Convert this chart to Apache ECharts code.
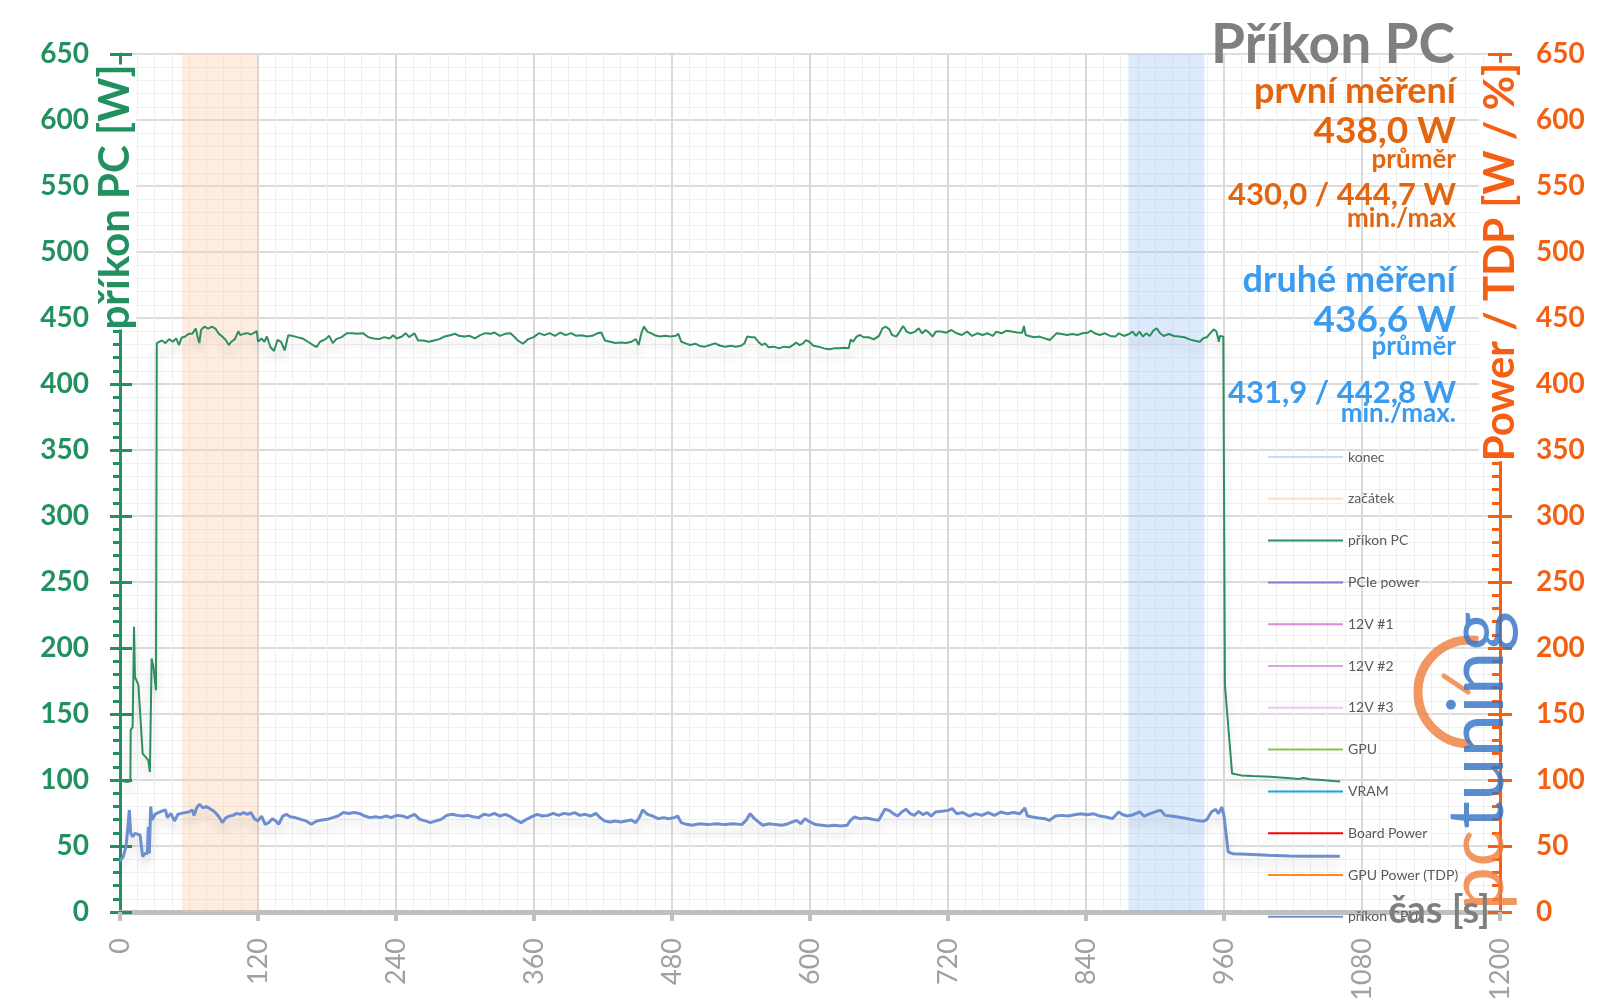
<!DOCTYPE html>
<html>
<head>
<meta charset="utf-8">
<script src="https://cdn.jsdelivr.net/npm/echarts@6.0.0/dist/echarts.min.js"></script>
<style>
html,body{margin:0;padding:0;background:#fff;}
#chart{width:1600px;height:1008px;}
</style>
</head>
<body>
<div id="chart"></div>
<script>
// ---- data ----
const xTicks = [0, 120, 240, 360, 480, 600, 720, 840, 960, 1080, 1200];
const startBand = [54, 120];   // "začátek"
const endBand = [877, 943];    // "konec"

const pcTime = [0,3,6,9,9.3,11,12.2,13,16,19.7,24.6,26,27.5,29,31.3,32,33.4,36.5,39.6,42.7,45.8,48.9,51.3,53.5,56.6,59.7,62.8,65.9,67.4,69,70.5,73.6,76.7,79.8,82.9,86,89,92.2,94.6,96.8,99.9,103,104.5,107.6,110.7,113.8,116.9,119,120,123,125.6,127.7,130.8,133.9,137,140,143.2,146.3,149.4,154,158.7,163.3,168,171,174,178.8,181.9,185,188,192.7,197.3,201.9,206.6,211.2,215.9,220.5,225.2,229.8,234.5,237.5,240.6,245.2,248.3,251.4,256,259.2,263.8,268.4,273,277.7,282.3,287,291.6,294.7,299.3,304,308.6,313.3,317.9,322.5,325.6,330.3,334.9,339.6,342.7,345.8,350.4,355,359.7,364.3,369,373.6,378.2,382.9,387.5,392.2,396.8,401.4,406.1,410.7,415.4,418.5,421.6,426.2,430.8,435.5,440.1,444.7,448.5,451,453.4,455.6,458.7,461.8,464.9,469.5,474.1,478.8,483.4,485.5,488,491.1,495.7,500.4,504,508.5,513,517.5,522,526.5,531,535.5,540,543,545.4,549,552,555,558,561,564,568.5,573,577.5,582,585,588,591,594,596.4,599.4,603,607.5,612,616.5,621,625.5,630,633.6,635.4,637.5,640.5,643.5,646.5,651,655.5,660,663,666,669,671.4,675,678,681,684,687.6,691.5,694.5,697.5,700.5,703.5,706.5,709.5,714,718.5,723,727.5,732,736.5,741,745.5,750,754.5,759,762,766.5,771,775.5,780,784.5,786,787.5,790.5,795,799.5,804,808.5,811.5,814.5,819,823.5,828,832.5,837,841.5,844.5,847.5,852,856.5,861,865.5,868.5,870,873,877.5,880.5,883.5,886.5,889.5,892.5,895.5,898.5,901.5,904.5,907.5,912,916.5,921,925.5,930,934.5,939,942,945,948,951,953.4,955.5,956.4,959.4,960,960.8,967,975,985,1000,1015,1025,1029,1035,1045,1055,1061];
const pcPower = [100,99,98.5,99,138,140,216,178,172,120,115,106,192,186,168,431,431,433,431,434,432,434.5,429.5,435,436,438,438,442,436,431,441,443.5,442,443.5,442,438,436,433,429.5,432,434,440,437,438,438.5,437.5,439,440,432,434.5,432,436,428,425,433.5,432,425.5,437,436.5,435.5,434.5,432,429.5,428,432,434,436.5,431,434,435.5,438.5,438.5,438,438.5,435.5,434.5,434,435.5,434.5,437,434.5,436,438.5,435.5,438.5,433,433,432,433,434,436,437,438,436.5,436,436.5,434.5,437,438.5,438,439,436.5,438,438.5,436,433,430.5,434,435.5,438.5,437,438.5,436.5,439,437,438.5,436.5,437,436,436.5,438.5,439,433,432,431,431.5,431,432,434,429.5,438.5,443.5,439.5,438.5,437,436,436.5,436,436.5,438,432,431,429.5,430.5,428.8,428.3,429.5,430.8,429,428.3,429,428.3,429,430.8,435.9,435.4,435.4,432,429.5,430.8,427.8,428.3,427,428.3,427.8,429.5,431.3,429.5,430.8,433.3,432,429,428.3,427,426.3,427,427,427.5,427,433.8,432,435.9,437.1,435.4,435.4,433.8,436.4,442.2,443.4,441.4,437.1,435.9,439.7,444,439.7,438.4,439.7,442.2,438.4,440.9,438.9,435.9,439.7,439.7,438.9,440.9,438.4,437.1,439.7,436.4,438.4,437.1,438.4,436.4,439.7,438.4,440.4,439.7,439.1,438.9,444,437.1,436.4,435.4,435.9,434.6,433.3,435.9,438.4,437.9,437.1,437.9,437.1,438.4,438.9,440.4,438.4,437.1,438.4,436.4,435.9,438.4,439.7,436.4,437.9,439.7,436.4,439.7,435.9,438.4,436.4,440.4,442.2,438.4,436.4,437.9,436.4,435.9,435.4,433.8,432.8,432,434.6,435.4,438.4,441.4,439.7,432,436.4,435.9,435.9,172,105,103.5,103,102.5,101.5,100.8,101.5,100.5,100,99.2,98.8];

const cpuTime = [0,1.4,2.9,5.2,6.4,8.1,9.3,11,13,17.4,19.7,21.7,23.8,24.6,25.5,26.7,27.8,29.6,30.3,33.4,36.5,39.6,41.1,44.2,47.3,50.4,53.5,56.6,59.7,62.8,64.3,66.8,69,72.1,75.2,78.2,81.3,84.4,87.5,89,92.2,95.3,98.3,101.4,104.5,107.6,110.7,113.8,116.9,120,123.1,126.2,129.3,132.4,135.5,138,141.6,144.7,147.8,152.5,157.1,161.7,166.4,171,175.7,180.3,185,189.6,194.2,198.9,203.5,208.2,212.8,217.4,222.1,226.7,231.3,236,240.6,245.3,249.9,256.1,260.7,265.4,270,274.7,279.3,284,288.6,293.2,297.9,302.5,307.1,311.8,316.4,321.1,325.7,330.3,335,339.6,344.2,348.9,353.5,358.2,362.8,367.4,372.1,376.7,381.4,386,390.6,395.3,399.9,404.6,409.2,413.8,417.5,421.5,426.1,430.8,435.4,440.1,444.7,448.4,451.5,454.6,458.6,463.2,467.9,472.5,477.1,481.8,484.9,488,492.6,497.3,501.9,504,511.4,518.7,526,533.4,540.7,544.4,548,551.7,555.3,559,564.5,570,575.5,581,584.6,588.3,591.9,595.6,600,604.8,610.3,615.7,621.2,626.7,632.2,635.2,638.8,643.2,648.7,654.2,659.6,665.1,668.8,672.5,676.2,679.8,683.5,687.2,690.8,694.5,698.1,701.8,705.5,709.1,714.6,720.1,723.8,727.4,732.9,738.4,743.9,749.4,754.9,760.4,765.9,771.4,776.9,782.4,786.8,789,793.4,798.9,804.3,808,813.5,819,824.5,830,835.5,841,846.5,852,857.4,862.9,868.4,872.1,875.8,881.2,886.7,890.4,895.9,901.4,905.1,908.7,914.2,919.7,925.2,930.7,936.2,941.7,945.3,949,952.7,955.2,958.2,960,963.6,967.3,980,998.4,1016.7,1035,1060.7];
const cpuPower = [38.5,39.4,41.9,49.5,59.6,77.3,59.6,57,59.6,58.3,41.9,44.4,44.4,64.6,44.4,79.8,69.7,72.2,74,75.3,76.5,77.3,71.5,74.7,69,74,74.7,75.3,75.8,77.3,73.2,79,81.6,79,79.8,78.3,76.5,74,70.2,67.7,71.5,72.7,73.2,74.7,74,75.3,74,75.3,70.7,69,72.7,66.4,67.7,70.7,69,66.4,72.7,74,72.2,71.5,70.2,69,66.4,69,69.7,70.2,71.5,72.7,75.3,74.7,75.3,74.7,72.7,71.5,72.2,71.5,72.7,71.5,73.2,72.7,71.5,74,70.2,69,67.7,69,70.2,73.2,74,73.2,72.7,73.2,72.2,71.5,74,73.2,74.7,72.7,74,72.2,69.7,67.7,70.2,72.2,74,72.7,73.2,74.7,73.2,74.7,74,75.3,73.2,74,72.7,74.7,71.5,69,68.2,69,68.2,69,69.7,67.7,71.5,77.3,74,72.7,70.7,71.5,70.7,71.5,72.7,67.7,66.4,65.7,66.4,66.9,66.2,66.9,66.2,66.9,66.2,69.4,74.5,70.7,68.2,65.7,66.9,66.2,65.7,66.9,68.2,69.4,66.9,70.7,68.2,66.2,65.7,65.2,65.7,65.2,65.7,69.4,72,70.7,71.2,70.2,69.4,77.8,77,74.5,72.7,75.8,77.8,74.5,73.2,76.3,73.7,75.3,72.7,75.8,76.3,77,78.3,74.5,75.3,72.7,74.5,73.2,75.3,73.2,75.8,74.5,75.3,74.5,78.8,72.7,72,71.2,70.7,69.4,72.7,73.2,72.7,73.7,74.5,73.7,74.5,72.7,72,70.7,75.8,73.7,72.7,73.7,75.8,72.7,74.5,76.3,77,73.2,72.7,72,71.2,70.2,69.4,68.7,70.2,75.8,77.8,74.5,79.5,72.7,45.5,44.2,43.7,42.9,42.4,42.2,42.2];

const legendNames = ['konec','začátek','příkon PC','PCIe power','12V #1','12V #2','12V #3','GPU','VRAM','Board Power','GPU Power (TDP)','příkon CPU'];
const legendColors = ['#c6dcf4','#fbdcc4','#2e8f5e','#7f7fd0','#d88ad8','#d9a3e0','#e8c8ee','#8cc152','#1ea5e0','#ff0000','#ff8a1c','#6d8fcf'];

// ---- chart ----
const zip = (a, b) => a.map((t, i) => [t, b[i]]);
const GREEN = '#23905f', ORANGE = '#f55f14', TXT_OR = '#e3650f', TXT_BL = '#3b9bee', GRAY = '#7f7f7f';
const FONT = 'Lato';

const series = legendNames.map((name, i) => ({
  name, type: 'line', data: [], color: legendColors[i], showSymbol: false,
  lineStyle: { width: 2, color: legendColors[i] }, silent: true
}));
series[0].markArea = { silent: true, itemStyle: { color: 'rgba(150,190,245,0.33)' },
  data: [[{ xAxis: endBand[0] }, { xAxis: endBand[1] }]] };
series[1].markArea = { silent: true, itemStyle: { color: 'rgba(250,200,160,0.34)' },
  data: [[{ xAxis: startBand[0] }, { xAxis: startBand[1] }]] };
series[2].data = zip(pcTime, pcPower);
series[2].z = 5;
series[2].lineStyle = { width: 2, color: legendColors[2], shadowColor: 'rgba(0,0,0,0.16)', shadowBlur: 10, shadowOffsetY: 8 };
series[11].data = zip(cpuTime, cpuPower);
series[11].z = 4;
series[11].lineStyle = { width: 3, color: legendColors[11], shadowColor: 'rgba(0,0,0,0.14)', shadowBlur: 10, shadowOffsetY: 8 };

const yBase = { type: 'value', min: 0, max: 650, interval: 50 };

const txt = (text, y, size, color) => ({
  type: 'text', x: 1456, y, z: 100,
  style: { text, align: 'right', verticalAlign: 'middle', font: `bold ${size}px ${FONT}`, fill: color }
});

const option = {
  animation: false,
  backgroundColor: '#ffffff',
  grid: { left: 120, right: 100, top: 54, bottom: 96, containLabel: false },
  xAxis: {
    type: 'value', min: xTicks[0], max: xTicks[xTicks.length - 1], interval: 120,
    axisLine: { lineStyle: { color: '#bfbfbf', width: 5 } },
    axisTick: { show: true, length: 9, lineStyle: { color: '#bfbfbf', width: 4 } },
    axisLabel: { rotate: 90, margin: 26, color: '#a0a0a0', fontSize: 27, fontFamily: FONT,
      formatter: v => String(v) },
    splitLine: { show: true, lineStyle: { color: '#d9d9d9', width: 2 } },
    minorTick: { show: false, splitNumber: 8 },
    minorSplitLine: { show: true, lineStyle: { color: '#efefef', width: 1 } }
  },
  yAxis: [
    Object.assign({}, yBase, {
      position: 'left',
      axisLine: { show: true, lineStyle: { color: GREEN, width: 3 } },
      axisTick: { show: true, length: 10, lineStyle: { color: GREEN, width: 3 } },
      minorTick: { show: true, splitNumber: 5, length: 7, lineStyle: { color: GREEN, width: 3 } },
      axisLabel: { margin: 31, color: GREEN, fontSize: 28, fontWeight: 'bold', fontFamily: FONT },
      splitLine: { show: true, lineStyle: { color: '#dcdcdc', width: 2 } },
      minorSplitLine: { show: true, lineStyle: { color: '#efefef', width: 1 } }
    }),
    Object.assign({}, yBase, {
      position: 'right',
      axisLine: { show: true, lineStyle: { color: ORANGE, width: 3 } },
      axisTick: { show: true, inside: true, length: 12, lineStyle: { color: ORANGE, width: 3 } },
      minorTick: { show: true, splitNumber: 5, length: 8, lineStyle: { color: ORANGE, width: 3 } },
      axisLabel: { margin: 36, color: ORANGE, fontSize: 28, fontWeight: 'bold', fontFamily: FONT },
      splitLine: { show: false }
    }),
    Object.assign({}, yBase, {
      position: 'left', offset: 0,
      axisLine: { show: false },
      axisTick: { show: true, inside: true, length: 12, lineStyle: { color: GREEN, width: 3 } },
      axisLabel: { show: false }, splitLine: { show: false }
    }),
    Object.assign({}, yBase, {
      position: 'right', offset: 0,
      axisLine: { show: false },
      axisTick: { show: true, inside: false, length: 12, lineStyle: { color: ORANGE, width: 3 } },
      axisLabel: { show: false }, splitLine: { show: false }
    })
  ],
  legend: {
    orient: 'vertical', left: 1263, top: 444, icon: 'rect',
    itemWidth: 75, itemHeight: 2, itemGap: 25.8, selectedMode: false,
    data: legendNames,
    textStyle: { color: '#595959', fontSize: 14, fontFamily: FONT, lineHeight: 16 }
  },
  series,
  graphic: [
    // logo watermark
    { type: 'arc', z: 90, shape: { cx: 1470, cy: 692, r: 52, startAngle: Math.PI * 0.5, endAngle: Math.PI * 1.55, clockwise: true },
      style: { stroke: 'rgba(238,128,64,0.82)', lineWidth: 9, fill: null } },
    { type: 'line', z: 90, shape: { x1: 1468, y1: 692, x2: 1444, y2: 676 },
      style: { stroke: 'rgba(238,128,64,0.82)', lineWidth: 5, lineCap: 'round' } },
    { type: 'text', z: 91, x: 1478, y: 720, rotation: Math.PI / 2,
      style: { text: 'tuning', align: 'center', verticalAlign: 'middle', font: `78px ${FONT}`, fill: 'rgba(52,116,196,0.82)' } },
    { type: 'text', z: 91, x: 1478, y: 870, rotation: Math.PI / 2,
      style: { text: 'pc', align: 'center', verticalAlign: 'middle', font: `78px ${FONT}`, fill: 'rgba(238,128,64,0.82)' } },
    // axis titles
    { type: 'text', z: 100, x: 115, y: 197, rotation: Math.PI / 2,
      style: { text: 'příkon PC [W]', align: 'center', verticalAlign: 'middle', font: `bold 42px ${FONT}`, fill: GREEN, backgroundColor: '#ffffff' } },
    { type: 'text', z: 100, x: 1500, y: 262, rotation: Math.PI / 2,
      style: { text: 'Power / TDP [W / %]', align: 'center', verticalAlign: 'middle', font: `bold 42px ${FONT}`, fill: ORANGE, backgroundColor: '#ffffff' } },
    { type: 'text', z: 100, x: 1490, y: 911,
      style: { text: 'čas [s]', align: 'right', verticalAlign: 'middle', font: `bold 38px ${FONT}`, fill: GRAY } },
    // title and stats
    { type: 'text', z: 100, x: 1455, y: 45,
      style: { text: 'Příkon PC', align: 'right', verticalAlign: 'middle', font: `bold 55px ${FONT}`, fill: GRAY } },
    txt('první měření', 91, 36, TXT_OR),
    txt('438,0 W', 131, 37, TXT_OR),
    txt('průměr', 160, 26, TXT_OR),
    txt('430,0 / 444,7 W', 195, 31, TXT_OR),
    txt('min./max', 219, 26, TXT_OR),
    txt('druhé měření', 280, 36, TXT_BL),
    txt('436,6 W', 320, 37, TXT_BL),
    txt('průměr', 347, 26, TXT_BL),
    txt('431,9 / 442,8 W', 393, 31, TXT_BL),
    txt('min./max.', 414, 26, TXT_BL)
  ]
};

const chart = echarts.init(document.getElementById('chart'), null, { renderer: 'canvas' });
chart.setOption(option);
</script>
</body>
</html>
